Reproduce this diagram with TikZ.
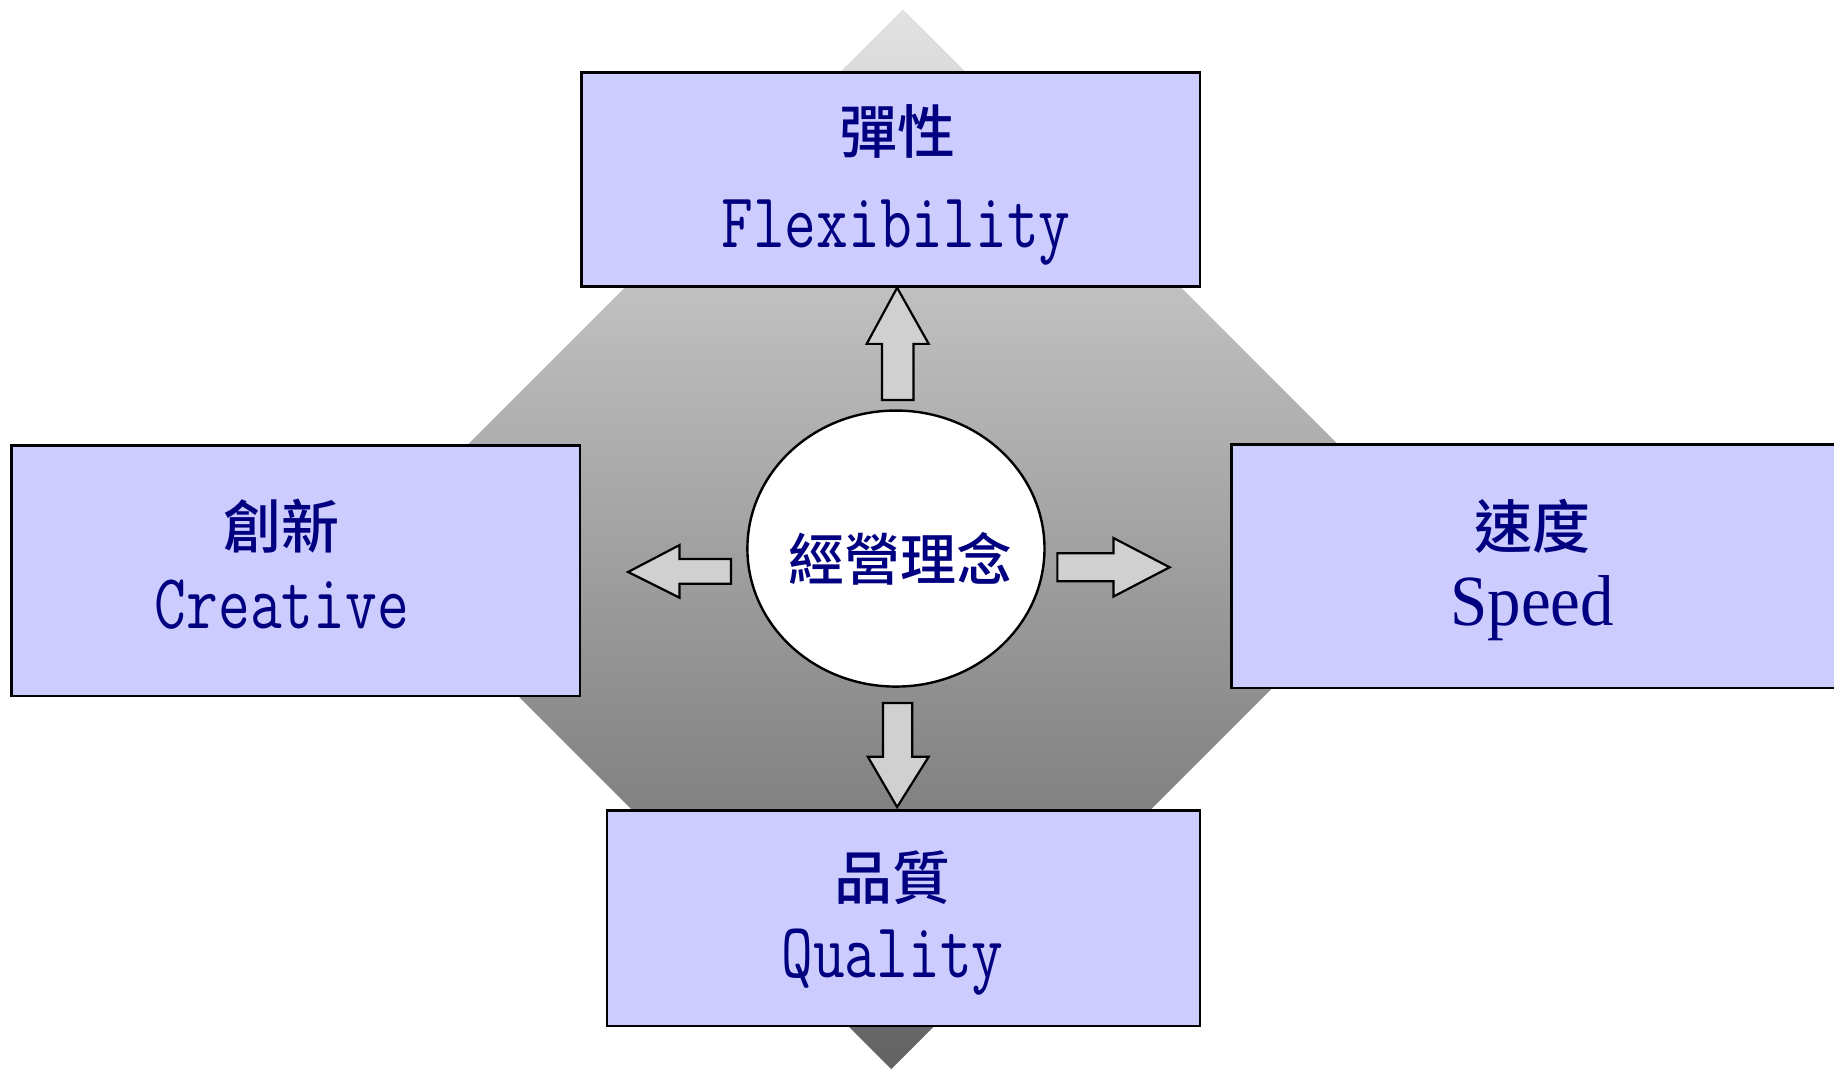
\documentclass[tikz,border=0pt]{standalone}
\usepackage{fontspec}
\usepackage{graphicx}
\usetikzlibrary{shapes.geometric}
\newfontfamily\cjk[BoldFont={Noto Sans CJK TC Medium}]{Noto Sans CJK TC}
\newfontfamily\serifen{Liberation Serif}
\definecolor{boxfill}{RGB}{204,204,255}
\definecolor{navy}{RGB}{0,0,128}
\definecolor{arrfill}{RGB}{208,208,208}
\definecolor{shtop}{RGB}{226,226,226}
\definecolor{shbot}{RGB}{98,98,98}
\begin{document}
\begin{tikzpicture}[x=0.5848pt,y=-0.5848pt,
  boxstyle/.style={draw=black,line width=1.2pt,fill=boxfill,inner sep=0pt},
  arrstyle/.style={draw=black,line width=1.1pt,fill=arrfill,line join=miter},
  cjklabel/.style={text=navy,inner sep=0pt,font=\cjk\bfseries\fontsize{29}{34}\selectfont},
  monolabel/.style={text=navy,inner sep=0pt,anchor=base,font=\ttfamily\fontsize{39}{44}\selectfont},
  serlabel/.style={text=navy,inner sep=0pt,anchor=base,font=\serifen\fontsize{36}{42}\selectfont}]
\useasboundingbox (0,0) rectangle (1568,916);
\fill[white] (0,0) rectangle (1568,916);
\clip (0,0) rectangle (1568,916);
% background diamond with gradient
\shade[top color=shtop,bottom color=shbot] (772,8) -- (1220,456) -- (762,914) -- (314,466) -- cycle;
% boxes
\node[boxstyle,minimum width=529*0.5848pt,minimum height=183*0.5848pt] (flex) at (761.5,153.5) {};
\node[boxstyle,minimum width=486*0.5848pt,minimum height=214*0.5848pt] (creat) at (253,488) {};
\node[boxstyle,minimum width=547*0.5848pt,minimum height=208*0.5848pt] (speed) at (1326.5,484) {};
\node[boxstyle,minimum width=507*0.5848pt,minimum height=184*0.5848pt] (qual) at (772.5,785) {};
% center ellipse
\node[draw=black,line width=1.2pt,fill=white,ellipse,inner sep=0pt,
  minimum width=254*0.5848pt,minimum height=236*0.5848pt] (core) at (766,469) {};
% block arrows
\draw[arrstyle] (767,246) -- (794,294) -- (781,294) -- (781,342) -- (754,342) -- (754,294) -- (741,294) -- cycle;
\draw[arrstyle] (537,489) -- (581,466) -- (581,478) -- (625,478) -- (625,499) -- (581,499) -- (581,511) -- cycle;
\draw[arrstyle] (904,473) -- (952,473) -- (952,460) -- (1000,485) -- (952,510) -- (952,497) -- (904,497) -- cycle;
\draw[arrstyle] (755,601) -- (780,601) -- (780,647) -- (794,647) -- (767,690) -- (742,647) -- (755,647) -- cycle;
% texts
\node[cjklabel] (t1) at (767,112) {彈性};
\node[monolabel] (e1) at (766,212) {\scalebox{0.79}[1]{Flexibility}};
\node[cjklabel] (t2) at (241,450) {創新};
\node[monolabel] (e2) at (241,537) {\scalebox{0.79}[1]{Creative}};
\node[cjklabel] (t3) at (1310,450) {速度};
\node[serlabel] (e3) at (1310,535) {\scalebox{0.93}[1]{Speed}};
\node[cjklabel] (t4) at (763,750) {品質};
\node[monolabel] (e4) at (763,836) {\scalebox{0.79}[1]{Quality}};
\node[cjklabel,font=\cjk\bfseries\fontsize{28}{34}\selectfont] (tc) at (770,478) {經營理念};
\end{tikzpicture}
\end{document}
